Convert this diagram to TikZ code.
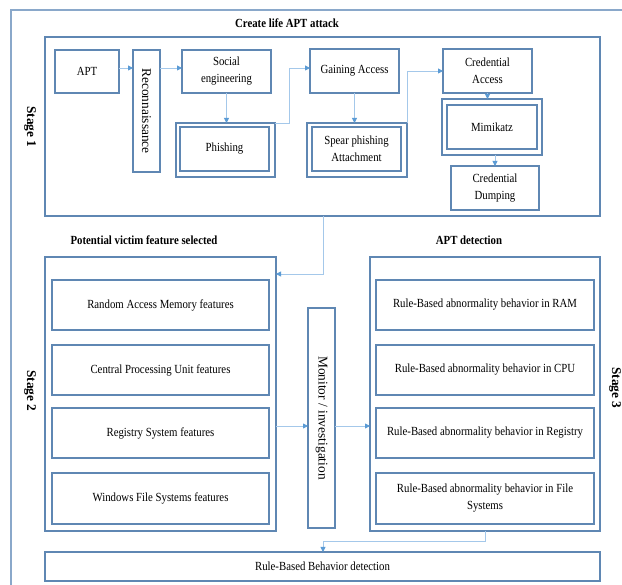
\documentclass[tikz,border=0pt]{standalone}
\usepackage{fontspec}
\setmainfont{Liberation Serif}[FakeStretch=0.87]
\newfontfamily\rotfont{Liberation Serif}
\usetikzlibrary{arrows.meta,calc}
\definecolor{bord}{HTML}{5F87B3}
\definecolor{frame}{HTML}{8AA8CA}
\definecolor{arrline}{HTML}{A4C8EA}
\definecolor{arrhead}{HTML}{5B9BD5}
\begin{document}
\begin{tikzpicture}[x=1pt,y=-1pt,
  font=\fontsize{12.4}{17}\selectfont,
  box/.style={draw=bord,line width=1.1pt,inner sep=1pt,outer sep=0pt,align=center},
  rbox/.style={box,rotate=-90,font=\rotfont\fontsize{13.4}{15}\selectfont},
  ttl/.style={font=\fontsize{12.4}{17}\selectfont\bfseries,inner sep=0pt},
  rttl/.style={rotate=-90,inner sep=0pt,font=\rotfont\fontsize{13.3}{15}\selectfont\bfseries},
  arr/.style={draw=arrline,line width=0.9pt,-{Triangle[length=5pt,width=5pt,color=arrhead]}}]
\useasboundingbox (0,0) rectangle (622,585);
\fill[white] (0,0) rectangle (622,585);
% outer frame
\draw[frame,line width=1.2pt] (11,590) -- (11,10) -- (630,10);
% titles
\node[ttl] (t1) at (287,23) {Create life APT attack};
\node[ttl] (t2) at (144,240) {Potential victim feature selected};
\node[ttl] (t3) at (469,240) {APT detection};
\node[rttl] (st1) at (30,127) {Stage 1};
\node[rttl] (st2) at (30,391) {Stage 2};
\node[rttl] (st3) at (615,388) {Stage 3};
% stage 1
\node[box,minimum width=555pt,minimum height=179pt] (s1) at (322.5,126.5) {};
\node[box,minimum width=64pt,minimum height=43pt] (apt) at (87,71.5) {APT};
\node[rbox,minimum width=122pt,minimum height=27pt] (recon) at (146.5,111) {Reconnaissance};
\node[box,minimum width=89pt,minimum height=43pt] (social) at (226.5,71.5) {Social\\engineering};
\node[box,minimum width=99pt,minimum height=54pt] (phish) at (225.5,150) {};
\node[box,minimum width=89pt,minimum height=44pt] (phishi) at (224.5,149) {Phishing};
\node[box,minimum width=89pt,minimum height=44pt] (gain) at (354.5,71) {Gaining Access};
\node[box,minimum width=100pt,minimum height=54pt] (spear) at (357,150) {};
\node[box,minimum width=89pt,minimum height=44pt] (speari) at (356.5,149) {Spear phishing\\Attachment};
\node[box,minimum width=89pt,minimum height=44pt] (cred) at (487.5,71) {Credential\\Access};
\node[box,minimum width=100pt,minimum height=56pt] (mimi) at (492,127) {};
\node[box,minimum width=90pt,minimum height=44pt] (mimii) at (492,127) {Mimikatz};
\node[box,minimum width=88pt,minimum height=44pt] (dump) at (495,188) {Credential\\Dumping};
% stage 2
\node[box,minimum width=231pt,minimum height=274pt] (pot) at (160.5,394) {};
\node[box,minimum width=217pt,minimum height=50pt] (ram) at (160.5,305) {Random Access Memory features};
\node[box,minimum width=217pt,minimum height=50pt] (cpu) at (160.5,370) {Central Processing Unit features};
\node[box,minimum width=217pt,minimum height=50pt] (reg) at (160.5,433) {Registry System features};
\node[box,minimum width=217pt,minimum height=51pt] (win) at (160.5,498.5) {Windows File Systems features};
\node[rbox,minimum width=220pt,minimum height=27pt] (mon) at (321.5,418) {Monitor / investigation};
% stage 3
\node[box,minimum width=230pt,minimum height=274pt] (det) at (485,394) {};
\node[box,minimum width=218pt,minimum height=50pt] (rram) at (485,305) {Rule-Based abnormality behavior in RAM};
\node[box,minimum width=218pt,minimum height=50pt] (rcpu) at (485,370) {Rule-Based abnormality behavior in CPU};
\node[box,minimum width=218pt,minimum height=50pt] (rreg) at (485,433) {Rule-Based abnormality behavior in Registry};
\node[box,minimum width=218pt,minimum height=51pt] (rfs) at (485,498.5) {Rule-Based abnormality behavior in File\\Systems};
\node[box,minimum width=555pt,minimum height=29pt] (final) at (322.5,566.5) {Rule-Based Behavior detection};
% helper coordinates
\coordinate (ya) at (0,68);
\coordinate (xc) at (323,0);
\coordinate (yc) at (0,274);
\coordinate (yd) at (0,426);
% connectors
\draw[arr] (apt.east |- ya) -- (recon.south |- ya);
\draw[arr] (recon.north |- ya) -- (social.west |- ya);
\draw[arr] (social.south) -- (social.south |- phish.north);
\draw[arr] (phish.north east) -- ++(14,0) |- (gain.west |- ya);
\draw[arr] (gain.south) -- (gain.south |- spear.north);
\draw[arr] (spear.north east) |- (cred.west);
\draw[arr] (cred.south) -- (cred.south |- mimi.north);
\draw[arr] (dump.north |- mimi.south) -- (dump.north);
\draw[arr] (s1.south -| xc) |- (pot.east |- yc);
\draw[arr] (pot.east |- yd) -- (mon.south |- yd);
\draw[arr] (mon.north |- yd) -- (det.west |- yd);
\draw[arr] (det.south) -- ++(0,10) -| (final.north -| xc);
\end{tikzpicture}
\end{document}
